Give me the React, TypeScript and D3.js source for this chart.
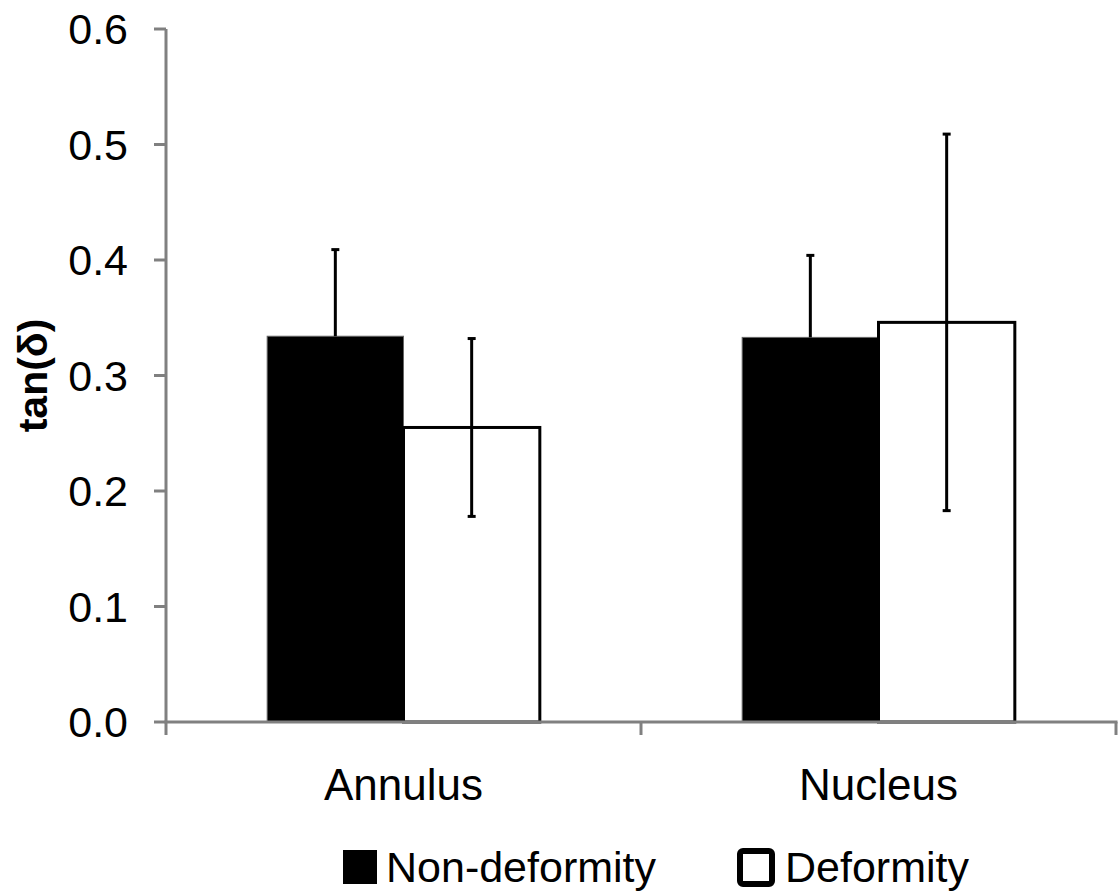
import React from 'react';
import * as d3 from 'd3';

const categories = ['Annulus', 'Nucleus'];
const seriesNames = ['Non-deformity', 'Deformity'];
const nonDeformity = [0.334, 0.333];
const nonDeformityErr = [0.075, 0.071];
const deformity = [0.255, 0.346];
const deformityErr = [0.077, 0.163];
const yTicks = [0, 0.1, 0.2, 0.3, 0.4, 0.5, 0.6];

const W = 1120;
const H = 894;
const left = 166;
const right = 1116;
const top = 29;
const bottom = 722;
const FONT = '"Liberation Sans", Arial, sans-serif';
const AXIS = '#808080';

export default function App() {
  const y = d3.scaleLinear().domain([0, 0.6]).range([bottom, top]);
  const x = d3.scaleBand<string>().domain(categories).range([left, right]);
  const groupW = x.bandwidth() * 0.574;
  const sub = d3
    .scaleBand<string>()
    .domain(seriesNames)
    .range([(x.bandwidth() - groupW) / 2, (x.bandwidth() + groupW) / 2]);

  const rows = categories.flatMap((c, i) => [
    { cat: c, s: seriesNames[0], v: nonDeformity[i], e: nonDeformityErr[i] },
    { cat: c, s: seriesNames[1], v: deformity[i], e: deformityErr[i] },
  ]);

  return (
    <svg
      width={W}
      height={H}
      style={{ position: 'absolute', left: 0, top: 0, background: '#fff' }}
      fontFamily={FONT}
    >
      {/* bars */}
      {rows.map((d, i) => {
        const bx = (x(d.cat) ?? 0) + (sub(d.s) ?? 0);
        const filled = d.s === seriesNames[0];
        return (
          <rect
            key={'b' + i}
            x={bx}
            y={y(d.v)}
            width={sub.bandwidth()}
            height={bottom - y(d.v)}
            fill={filled ? '#000' : '#fff'}
            stroke={filled ? '#666' : '#000'}
            strokeWidth={filled ? 1 : 3}
          />
        );
      })}

      {/* axes */}
      <g stroke={AXIS} strokeWidth={3} fill="none">
        <line x1={left} x2={left} y1={top} y2={bottom + 13} />
        <line x1={left - 1.5} x2={right + 1.5} y1={bottom} y2={bottom} />
        {yTicks.map((t) => (
          <line key={t} x1={left - 12} x2={left} y1={y(t)} y2={y(t)} />
        ))}
        {categories.map((c) => (
          <line
            key={c}
            x1={(x(c) ?? 0) + x.bandwidth()}
            x2={(x(c) ?? 0) + x.bandwidth()}
            y1={bottom}
            y2={bottom + 13}
          />
        ))}
      </g>

      {/* error bars */}
      {rows.map((d, i) => {
        const cx = (x(d.cat) ?? 0) + (sub(d.s) ?? 0) + sub.bandwidth() / 2;
        const filled = d.s === seriesNames[0];
        const y1 = y(d.v + d.e);
        const y0 = filled ? y(d.v) : y(d.v - d.e);
        return (
          <g key={'e' + i} stroke="#000" strokeWidth={3}>
            <line x1={cx} x2={cx} y1={y1} y2={y0} />
            <line x1={cx - 4} x2={cx + 4} y1={y1} y2={y1} />
            {!filled && <line x1={cx - 4} x2={cx + 4} y1={y0} y2={y0} />}
          </g>
        );
      })}

      {/* y tick labels */}
      {yTicks.map((t) => (
        <text key={t} x={128} y={y(t) + 15} textAnchor="end" fontSize={43} fill="#000">
          {t.toFixed(1)}
        </text>
      ))}

      {/* category labels */}
      {categories.map((c) => (
        <text
          key={c}
          x={(x(c) ?? 0) + x.bandwidth() / 2}
          y={800}
          textAnchor="middle"
          fontSize={44}
          fill="#000"
        >
          {c}
        </text>
      ))}

      {/* y title */}
      <text
        transform={`translate(47, ${(top + bottom) / 2}) rotate(-90)`}
        textAnchor="middle"
        fontSize={41}
        fontWeight="bold"
        fill="#000"
      >
        tan(δ)
      </text>

      {/* legend */}
      <rect x={343} y={850} width={34} height={34} fill="#000" />
      <text x={386} y={882} fontSize={43} fill="#000">
        {seriesNames[0]}
      </text>
      <rect x={740} y={851} width={32} height={33} rx={3} fill="#fff" stroke="#000" strokeWidth={6} />
      <text x={785} y={882} fontSize={43} fill="#000">
        {seriesNames[1]}
      </text>
    </svg>
  );
}
